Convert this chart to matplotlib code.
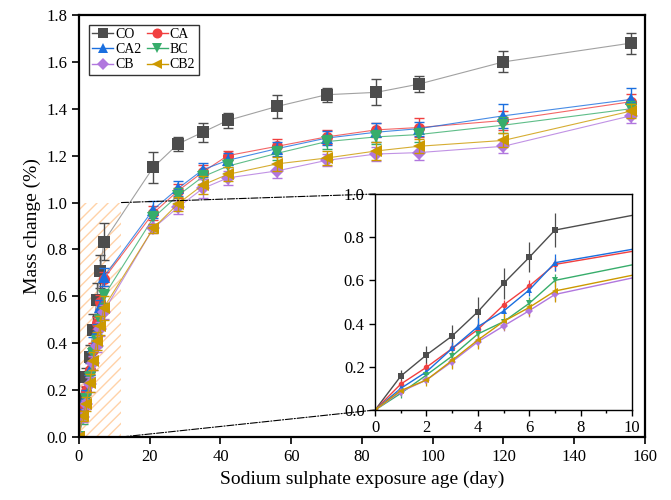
import numpy as np
import matplotlib
matplotlib.use("Agg")
from matplotlib import pyplot as plt
from matplotlib.patches import Rectangle, ConnectionPatch

plt.rcParams['font.family'] = ['Liberation Serif', 'DejaVu Serif']
plt.rcParams['hatch.linewidth'] = 1.0

days = [0, 1, 2, 3, 4, 5, 6, 7, 21, 28, 35, 42, 56, 70, 84, 96, 120, 156]

co = [0, 0.157, 0.255, 0.343, 0.455, 0.586, 0.707, 0.833, 1.15, 1.25, 1.30, 1.35, 1.41, 1.46, 1.47, 1.505, 1.60, 1.68]
ca = [0, 0.12, 0.198, 0.285, 0.373, 0.486, 0.574, 0.674, 0.955, 1.05, 1.13, 1.20, 1.24, 1.28, 1.31, 1.32, 1.35, 1.43]
ca2 = [0, 0.10, 0.177, 0.285, 0.386, 0.458, 0.556, 0.682, 0.97, 1.06, 1.14, 1.18, 1.23, 1.275, 1.30, 1.315, 1.37, 1.44]
bc = [0, 0.077, 0.162, 0.25, 0.352, 0.409, 0.494, 0.60, 0.935, 1.03, 1.11, 1.155, 1.21, 1.26, 1.28, 1.29, 1.33, 1.40]
cb = [0, 0.085, 0.139, 0.224, 0.316, 0.389, 0.46, 0.535, 0.89, 0.98, 1.06, 1.105, 1.135, 1.18, 1.207, 1.213, 1.24, 1.37]
cb2 = [0, 0.09, 0.139, 0.23, 0.324, 0.41, 0.475, 0.551, 0.89, 0.995, 1.075, 1.12, 1.165, 1.19, 1.22, 1.24, 1.265, 1.39]

co_err = [0, 0.03, 0.04, 0.05, 0.07, 0.07, 0.07, 0.08, 0.065, 0.03, 0.04, 0.03, 0.05, 0.03, 0.055, 0.035, 0.045, 0.045]
ca_err = [0, 0.02, 0.02, 0.03, 0.03, 0.025, 0.03, 0.03, 0.03, 0.03, 0.03, 0.02, 0.03, 0.03, 0.03, 0.04, 0.04, 0.035]
ca2_err = [0, 0.02, 0.025, 0.03, 0.04, 0.025, 0.03, 0.04, 0.035, 0.03, 0.03, 0.03, 0.03, 0.03, 0.04, 0.03, 0.05, 0.05]
bc_err = [0, 0.02, 0.02, 0.03, 0.03, 0.025, 0.03, 0.03, 0.03, 0.03, 0.03, 0.03, 0.03, 0.03, 0.03, 0.03, 0.035, 0.035]
cb_err = [0, 0.02, 0.02, 0.03, 0.03, 0.025, 0.03, 0.03, 0.02, 0.03, 0.04, 0.03, 0.03, 0.025, 0.03, 0.03, 0.03, 0.03]
cb2_err = [0, 0.02, 0.03, 0.04, 0.04, 0.04, 0.04, 0.05, 0.02, 0.03, 0.04, 0.03, 0.03, 0.03, 0.04, 0.03, 0.03, 0.03]

names = ['CO', 'CA', 'CA2', 'BC', 'CB', 'CB2']
series = [co, ca, ca2, bc, cb, cb2]
errors = [co_err, ca_err, ca2_err, bc_err, cb_err, cb2_err]
colors = ['#4d4d4d', '#f14040', '#1a6fdf', '#37ad6b', '#b177de', '#cc9900']
markers = ['s', 'o', '^', 'v', 'D', '<']
sizes = [8, 8, 8.5, 8.5, 7, 8.5]

fig = plt.figure(figsize=(6.71, 5.0), dpi=100)
ax = fig.add_axes([0.1177, 0.126, 0.8435, 0.844])

handles = []
for name, vals, err, c, m, s in zip(names, series, errors, colors, markers, sizes):
    ax.errorbar(days, vals, yerr=err, fmt='none', ecolor=c, elinewidth=1, capsize=3.5, capthick=1)
    ax.plot(days, vals, color=c if name != 'CO' else '#8a8a8a', lw=0.8, alpha=0.8)
    ax.plot(days, vals, color=c, lw=0, marker=m, markersize=s, markeredgewidth=0)
    handles.append(ax.plot([], [], color=c, lw=1, marker=m, markersize=s * 0.9, markeredgewidth=0)[0])

ax.add_patch(Rectangle((0, 0), 12, 1.0, fill=False, hatch='///', edgecolor='#ffd2a8', lw=0, zorder=0))

ax.set_xlim(0, 160)
ax.set_ylim(0, 1.8)
ax.set_xticks(np.arange(0, 161, 20))
ax.set_yticks(np.arange(0, 1.81, 0.2))
ax.set_yticklabels([f'{v:.1f}' for v in np.arange(0, 1.81, 0.2)])
ax.tick_params(direction='out', length=5, width=1.2, labelsize=12)
for sp in ax.spines.values():
    sp.set_linewidth(1.6)
ax.set_xlabel('Sodium sulphate exposure age (day)', fontsize=14)
ax.set_ylabel('Mass change (%)', fontsize=14)

order = [0, 2, 4, 1, 3, 5]
leg = ax.legend([handles[i] for i in order], [names[i] for i in order], ncol=2, loc='upper left',
                fontsize=10, frameon=True, fancybox=False, handlelength=1.5, handletextpad=0.15,
                columnspacing=0.4, labelspacing=0.15, borderpad=0.25, borderaxespad=0.7)
leg.get_frame().set_edgecolor('black')
leg.get_frame().set_linewidth(1.0)

# inset
axin = fig.add_axes([0.559, 0.18, 0.383, 0.432])
for name, vals, err, c, m in zip(names, series, errors, colors, markers):
    axin.errorbar(days, vals, yerr=err, color=c, lw=1, marker=m, markersize=4, markeredgewidth=0,
                  elinewidth=0.9, capsize=2, capthick=0.9)
axin.set_xlim(0, 10)
axin.set_ylim(0, 1.0)
axin.set_xticks(np.arange(0, 11, 2))
axin.set_xticks(np.arange(1, 10, 2), minor=True)
axin.set_yticks(np.arange(0, 1.01, 0.2))
axin.set_yticklabels([f'{v:.1f}' for v in np.arange(0, 1.01, 0.2)])
axin.tick_params(direction='out', length=4, width=1, labelsize=12)
axin.tick_params(which='minor', direction='out', length=2.5, width=1)
for sp in axin.spines.values():
    sp.set_linewidth(1.0)

for y0, yin in [(1.0, 1), (0, 0)]:
    con = ConnectionPatch(xyA=(12, y0), coordsA=ax.transData, xyB=(0, yin), coordsB=axin.transAxes,
                          color='black', lw=0.8, linestyle='-.')
    fig.add_artist(con)

fig.savefig('out.png', dpi=100)
